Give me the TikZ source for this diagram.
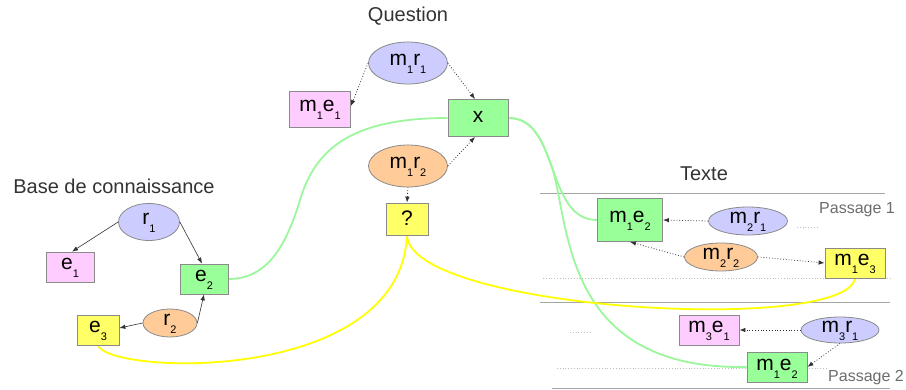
\documentclass[tikz,border=0pt]{standalone}
\usepackage{fontspec}
\setmainfont{Liberation Sans}
\usetikzlibrary{arrows.meta,shapes.geometric}
\definecolor{pinkfill}{HTML}{FFCCFF}
\definecolor{greenfill}{HTML}{99FF99}
\definecolor{yellowfill}{HTML}{FFFF66}
\definecolor{bluefill}{HTML}{CCCCFF}
\definecolor{orangefill}{HTML}{FFCC99}
\definecolor{bordergray}{HTML}{8A8A8A}
\definecolor{titlegray}{HTML}{333333}
\definecolor{greenline}{HTML}{9CF79C}
\definecolor{yellowline}{HTML}{FFFF00}
\newcommand\sbx[1]{\raisebox{-8pt}{\fontsize{11}{11}\selectfont #1}}
\newcommand\lbl[2][3pt]{\makebox[0pt]{\smash{\raisebox{-#1}{#2}}}}
\pgfdeclarelayer{background}
\pgfsetlayers{background,main}
\tikzset{
  basenode/.style={draw=bordergray, line width=0.8pt, inner sep=0pt, font=\fontsize{21}{21}\selectfont, text=black},
  pinkbox/.style={basenode, rectangle, fill=pinkfill},
  greenbox/.style={basenode, rectangle, fill=greenfill},
  yellowbox/.style={basenode, rectangle, fill=yellowfill},
  blueell/.style={basenode, ellipse, fill=bluefill},
  orangeell/.style={basenode, ellipse, fill=orangefill},
  title/.style={font=\fontsize{20}{20}\selectfont, text=titlegray, inner sep=0pt},
  passage/.style={font=\fontsize{16}{16}\selectfont, text=gray!85!black, inner sep=0pt},
  solidarr/.style={draw=black!80, line width=0.6pt, -{Latex[length=6pt,width=4.5pt]}},
  dotarr/.style={draw=black!80, line width=0.8pt, dotted, -{Latex[length=6pt,width=4.5pt]}},
  sepline/.style={draw=gray!70, line width=0.8pt},
  sepdots/.style={draw=gray!50, line width=0.8pt, dotted},
  greencurve/.style={draw=greenline, line width=1.8pt},
  yellowcurve/.style={draw=yellowline, line width=1.8pt},
}
\begin{document}
\begin{tikzpicture}[x=1pt,y=-1pt]
\useasboundingbox (0,0) rectangle (906,390);
% titles
\node[title] (tq) at (408,16) {Question};
\node[title] (tb) at (114,186) {Base de connaissance};
\node[title] (tt) at (704,174) {Texte};
\node[passage] (p1) at (857,210) {Passage 1};
\node[passage] (p2) at (866,378) {Passage 2};
% question
\node[blueell, minimum width=79pt, minimum height=42pt] (m1r1) at (408,63) {\lbl{m\sbx{1}r\sbx{1}}};
\node[pinkbox, minimum width=61pt, minimum height=36pt] (m1e1) at (320,109) {\lbl{m\sbx{1}e\sbx{1}}};
\node[greenbox, minimum width=60pt, minimum height=37pt] (x) at (478,118) {\lbl[5pt]{x}};
\node[orangeell, minimum width=79pt, minimum height=42pt] (m1r2) at (408,166) {\lbl{m\sbx{1}r\sbx{2}}};
\node[yellowbox, minimum width=42pt, minimum height=32pt] (q) at (407,219) {\lbl[7pt]{?}};
% base
\node[blueell, minimum width=61pt, minimum height=37pt] (r1) at (149,222) {\lbl{r\sbx{1}}};
\node[pinkbox, minimum width=48pt, minimum height=30pt] (e1) at (70,267) {\lbl{e\sbx{1}}};
\node[greenbox, minimum width=48pt, minimum height=30pt] (e2) at (204,279) {\lbl{e\sbx{2}}};
\node[orangeell, minimum width=54pt, minimum height=28pt] (r2) at (170,323) {\lbl{r\sbx{2}}};
\node[yellowbox, minimum width=42pt, minimum height=30pt] (e3) at (98,330) {\lbl{e\sbx{3}}};
% texte
\node[greenbox, minimum width=65pt, minimum height=43pt] (t1) at (630,220) {\lbl{m\sbx{1}e\sbx{2}}};
\node[blueell, minimum width=79pt, minimum height=28pt] (m2r1) at (748,221) {\lbl{m\sbx{2}r\sbx{1}}};
\node[orangeell, minimum width=73pt, minimum height=28pt] (m2r2) at (721,257) {\lbl{m\sbx{2}r\sbx{2}}};
\node[yellowbox, minimum width=60pt, minimum height=30pt] (m1e3) at (855,263) {\lbl{m\sbx{1}e\sbx{3}}};
\node[pinkbox, minimum width=60pt, minimum height=30pt] (m3e1) at (709,330) {\lbl{m\sbx{3}e\sbx{1}}};
\node[blueell, minimum width=78pt, minimum height=26pt] (m3r1) at (840,330) {\lbl{m\sbx{3}r\sbx{1}}};
\node[greenbox, minimum width=60pt, minimum height=30pt] (t2) at (777,367) {\lbl{m\sbx{1}e\sbx{2}}};
% coordinates for separators and curve split
\coordinate (s1a) at (540,193); \coordinate (s1b) at (885,193);
\coordinate (s2a) at (543,278); \coordinate (s2b) at (892,278);
\coordinate (s3a) at (540,302); \coordinate (s3b) at (890,302);
\coordinate (s4a) at (557,368); \coordinate (s4b) at (828,368);
\coordinate (s5a) at (552,388); \coordinate (s5b) at (890,388);
\coordinate (d1a) at (797,227); \coordinate (d1b) at (818,227);
\coordinate (d2a) at (570,332); \coordinate (d2b) at (592,332);
\coordinate (split) at (552.6,168.9);
\begin{pgfonlayer}{background}
\draw[sepline] (s1a) -- (s1b);
\draw[sepdots] (s2a) -- (s2b);
\draw[sepline] (s3a) -- (s3b);
\draw[sepdots] (s4a) -- (s4b);
\draw[sepline] (s5a) -- (s5b);
\draw[sepdots] (d1a) -- (d1b);
\draw[sepdots] (d2a) -- (d2b);
% curves
\draw[greencurve] (e2.east) .. controls (265,279) and (285,250) .. (300,200) .. controls (315,150) and (350,118) .. (x.west);
\draw[greencurve] (x.east) .. controls (560,118) and (545,220) .. (t1.west);
\draw[greencurve] (x.east) .. controls (534,117.5) and (543.25,143.25) .. (split) .. controls (570,230) and (565,370) .. (t2.west);
\draw[yellowcurve] (q.south) .. controls (410,310) and (845,335) .. (m1e3.south);
\draw[yellowcurve] (e3.south) .. controls (110,375) and (400,385) .. (q.south);
\end{pgfonlayer}
% arrows
\draw[dotarr] (m1r1.west) -- ([yshift=3pt]m1e1.east);
\draw[dotarr] (m1r1.east) -- ([xshift=-3pt]x.north);
\draw[dotarr] (m1r2.east) -- ([xshift=-3pt]x.south);
\draw[dotarr] (m1r2.south) -- (q.north);
\draw[solidarr] (r1.west) -- ([xshift=2pt]e1.north);
\draw[solidarr] (r1.east) -- ([xshift=-2pt]e2.north);
\draw[solidarr] (r2.west) -- ([yshift=2pt]e3.east);
\draw[solidarr] (r2.east) -- (e2.south);
\draw[dotarr] (m2r1.west) -- (t1.east);
\draw[dotarr] (m2r2.west) -- (t1.south);
\draw[dotarr] (m2r2.east) -- (m1e3.west);
\draw[dotarr] (m3r1.west) -- (m3e1.east);
\draw[dotarr] (m3r1.south) -- (t2.east);
\end{tikzpicture}
\end{document}
